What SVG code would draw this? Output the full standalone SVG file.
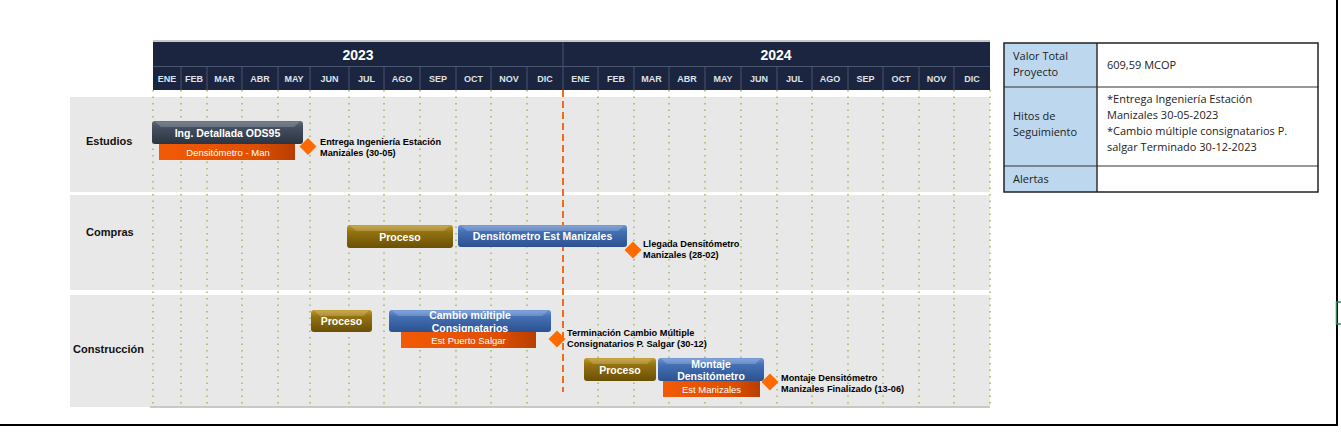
<svg xmlns="http://www.w3.org/2000/svg" width="1341" height="433" viewBox="0 0 1341 433">
<defs>
<style>
.band{fill:#e8e8e8}
.grid{stroke:#9bbb59;stroke-width:1.5;stroke-dasharray:1.5 5}
.mon{font-family:"Liberation Sans",Arial,sans-serif;font-weight:bold;font-size:9px;fill:#dfe3ea;text-anchor:middle}
.yr{font-family:"Liberation Sans",Arial,sans-serif;font-weight:bold;font-size:14px;fill:#ffffff;text-anchor:middle}
.row{font-family:"Liberation Sans",Arial,sans-serif;font-weight:bold;font-size:11px;fill:#111}
.bt{font-family:"Liberation Sans",Arial,sans-serif;font-weight:bold;font-size:10.5px;fill:#fff;text-anchor:middle}
.ot{font-family:"Liberation Sans",Arial,sans-serif;font-size:9.5px;fill:#fff;text-anchor:middle}
.ml{font-family:"Liberation Sans",Arial,sans-serif;font-weight:bold;font-size:9.2px;fill:#000}
.tt{font-family:"Open Sans","Liberation Sans",sans-serif;font-size:11px;fill:#222}
.dia{fill:#ff6a00}
.hl{fill:#ffffff;opacity:0.18}
</style>
<linearGradient id="gSlate" x1="0" y1="0" x2="0" y2="1"><stop offset="0" stop-color="#5d6878"/><stop offset="0.3" stop-color="#434e5f"/><stop offset="1" stop-color="#2b3441"/></linearGradient>
<linearGradient id="gGold" x1="0" y1="0" x2="0" y2="1"><stop offset="0" stop-color="#c09a28"/><stop offset="0.3" stop-color="#947210"/><stop offset="1" stop-color="#6a5005"/></linearGradient>
<linearGradient id="gBlue" x1="0" y1="0" x2="0" y2="1"><stop offset="0" stop-color="#6c94d4"/><stop offset="0.3" stop-color="#4470b4"/><stop offset="1" stop-color="#2c5190"/></linearGradient>
<linearGradient id="gOr" x1="0" y1="0" x2="1" y2="0"><stop offset="0" stop-color="#f25a06"/><stop offset="0.7" stop-color="#e04f00"/><stop offset="1" stop-color="#b83e00"/></linearGradient>
</defs>
<rect width="1341" height="433" fill="#ffffff"/>
<!-- frame -->
<line x1="1337" y1="0" x2="1337" y2="426" stroke="#000" stroke-width="2"/>
<line x1="0" y1="425" x2="1338" y2="425" stroke="#000" stroke-width="2"/>
<path d="M1341,302 H1336.5 V324 H1341" fill="none" stroke="#2e7d4f" stroke-width="1.5"/>

<!-- bands -->
<rect class="band" x="70" y="97" width="920" height="95"/>
<rect class="band" x="70" y="195" width="920" height="95"/>
<rect class="band" x="70" y="295" width="920" height="112"/>
<line x1="150" y1="407" x2="990" y2="407" stroke="#c8c8c8" stroke-width="2"/>

<!-- header -->
<g id="header">
<rect x="153" y="40" width="837" height="2" fill="#c8c8c8"/>
<rect x="153" y="42" width="837" height="48" fill="#1b2540"/>
<line x1="153" y1="66.5" x2="990" y2="66.5" stroke="#4a5570" stroke-width="1"/>
<line x1="563" y1="42" x2="563" y2="90" stroke="#4a5570" stroke-width="1"/>
<g stroke="#4a5570" stroke-width="1">
<line x1="181" y1="67" x2="181" y2="90"/><line x1="207" y1="67" x2="207" y2="90"/><line x1="242" y1="67" x2="242" y2="90"/><line x1="278" y1="67" x2="278" y2="90"/><line x1="310" y1="67" x2="310" y2="90"/><line x1="349" y1="67" x2="349" y2="90"/><line x1="384" y1="67" x2="384" y2="90"/><line x1="420" y1="67" x2="420" y2="90"/><line x1="456" y1="67" x2="456" y2="90"/><line x1="491" y1="67" x2="491" y2="90"/><line x1="527" y1="67" x2="527" y2="90"/>
<line x1="598" y1="67" x2="598" y2="90"/><line x1="634" y1="67" x2="634" y2="90"/><line x1="669" y1="67" x2="669" y2="90"/><line x1="705" y1="67" x2="705" y2="90"/><line x1="741" y1="67" x2="741" y2="90"/><line x1="777" y1="67" x2="777" y2="90"/><line x1="812" y1="67" x2="812" y2="90"/><line x1="848" y1="67" x2="848" y2="90"/><line x1="883" y1="67" x2="883" y2="90"/><line x1="919" y1="67" x2="919" y2="90"/><line x1="954" y1="67" x2="954" y2="90"/>
</g>
<text class="yr" x="358" y="60">2023</text>
<text class="yr" x="776" y="60">2024</text>
<text class="mon" x="167" y="81.5">ENE</text><text class="mon" x="194" y="81.5">FEB</text><text class="mon" x="224.5" y="81.5">MAR</text><text class="mon" x="260" y="81.5">ABR</text><text class="mon" x="294" y="81.5">MAY</text><text class="mon" x="329.5" y="81.5">JUN</text><text class="mon" x="366.5" y="81.5">JUL</text><text class="mon" x="402" y="81.5">AGO</text><text class="mon" x="438" y="81.5">SEP</text><text class="mon" x="473.5" y="81.5">OCT</text><text class="mon" x="509" y="81.5">NOV</text><text class="mon" x="545" y="81.5">DIC</text>
<text class="mon" x="580.5" y="81.5">ENE</text><text class="mon" x="616" y="81.5">FEB</text><text class="mon" x="651.5" y="81.5">MAR</text><text class="mon" x="687" y="81.5">ABR</text><text class="mon" x="723" y="81.5">MAY</text><text class="mon" x="759" y="81.5">JUN</text><text class="mon" x="794.5" y="81.5">JUL</text><text class="mon" x="830" y="81.5">AGO</text><text class="mon" x="865.5" y="81.5">SEP</text><text class="mon" x="901" y="81.5">OCT</text><text class="mon" x="936.5" y="81.5">NOV</text><text class="mon" x="972" y="81.5">DIC</text>
</g>

<!-- grid -->
<g id="grid">
<line class="grid" x1="153" y1="90" x2="153" y2="406"/><line class="grid" x1="181" y1="90" x2="181" y2="406"/><line class="grid" x1="207" y1="90" x2="207" y2="406"/><line class="grid" x1="242" y1="90" x2="242" y2="406"/><line class="grid" x1="278" y1="90" x2="278" y2="406"/><line class="grid" x1="310" y1="90" x2="310" y2="406"/><line class="grid" x1="349" y1="90" x2="349" y2="406"/><line class="grid" x1="384" y1="90" x2="384" y2="406"/><line class="grid" x1="420" y1="90" x2="420" y2="406"/><line class="grid" x1="456" y1="90" x2="456" y2="406"/><line class="grid" x1="491" y1="90" x2="491" y2="406"/><line class="grid" x1="527" y1="90" x2="527" y2="406"/>
<line class="grid" x1="598" y1="90" x2="598" y2="406"/><line class="grid" x1="634" y1="90" x2="634" y2="406"/><line class="grid" x1="669" y1="90" x2="669" y2="406"/><line class="grid" x1="705" y1="90" x2="705" y2="406"/><line class="grid" x1="741" y1="90" x2="741" y2="406"/><line class="grid" x1="777" y1="90" x2="777" y2="406"/><line class="grid" x1="812" y1="90" x2="812" y2="406"/><line class="grid" x1="848" y1="90" x2="848" y2="406"/><line class="grid" x1="883" y1="90" x2="883" y2="406"/><line class="grid" x1="919" y1="90" x2="919" y2="406"/><line class="grid" x1="954" y1="90" x2="954" y2="406"/><line class="grid" x1="990" y1="90" x2="990" y2="406"/>
<line x1="563" y1="90" x2="563" y2="392" stroke="#f26b1d" stroke-width="2" stroke-dasharray="7 4"/>
</g>

<!-- row labels -->
<text class="row" x="86" y="145">Estudios</text>
<text class="row" x="86" y="236">Compras</text>
<text class="row" x="73" y="353">Construcción</text>

<!-- Estudios -->
<g id="ing">
<rect x="152" y="121" width="151" height="23" rx="3" fill="url(#gSlate)"/>
<polygon class="hl" points="155,121.5 300,121.5 294,127 161,127"/>
<text class="bt" x="227.5" y="136.5">Ing. Detallada ODS95</text>
</g>
<g id="densMan">
<rect x="159" y="144" width="136" height="16" fill="url(#gOr)"/>
<text class="ot" x="228" y="155.5">Densitómetro - Man</text>
</g>
<g id="m1">
<polygon class="dia" points="308,138 316.5,146.5 308,155 299.5,146.5"/>
<text class="ml" x="320" y="144.5">Entrega Ingeniería Estación</text>
<text class="ml" x="320" y="155.5">Manizales (30-05)</text>
</g>

<!-- Compras -->
<g id="proc1">
<rect x="347" y="225" width="106" height="23" rx="3" fill="url(#gGold)"/>
<polygon class="hl" points="350,225.5 450,225.5 444,231 356,231"/>
<text class="bt" x="400" y="240.5">Proceso</text>
</g>
<g id="densEst">
<rect x="458" y="225" width="169" height="22" rx="3" fill="url(#gBlue)"/>
<polygon class="hl" points="461,225.5 624,225.5 618,231 467,231"/>
<text class="bt" x="542.5" y="240">Densitómetro Est Manizales</text>
</g>
<g id="m2">
<polygon class="dia" points="633,241.5 641.5,250 633,258.5 624.5,250"/>
<text class="ml" x="643" y="246.5">Llegada Densitómetro</text>
<text class="ml" x="643" y="257.5">Manizales  (28-02)</text>
</g>

<!-- Construccion -->
<g id="proc2">
<rect x="311" y="310" width="61" height="22" rx="3" fill="url(#gGold)"/>
<polygon class="hl" points="314,310.5 369,310.5 363,316 320,316"/>
<text class="bt" x="341.5" y="325">Proceso</text>
</g>
<g id="cambio">
<rect x="389" y="310" width="162" height="22" rx="3" fill="url(#gBlue)"/>
<polygon class="hl" points="392,310.5 548,310.5 542,316 398,316"/>
<text class="bt" x="470" y="319">Cambio múltiple</text>
<text class="bt" x="470" y="331.5">Consignatarios</text>
</g>
<g id="puerto">
<rect x="401" y="332" width="135" height="16" fill="url(#gOr)"/>
<text class="ot" x="468.5" y="343.5">Est Puerto Salgar</text>
</g>
<g id="m3">
<polygon class="dia" points="557,330.5 565.5,339 557,347.5 548.5,339"/>
<text class="ml" x="567" y="335.5">Terminación Cambio Múltiple</text>
<text class="ml" x="567" y="346.5">Consignatarios P. Salgar (30-12)</text>
</g>
<g id="proc3">
<rect x="584" y="358" width="72" height="23" rx="3" fill="url(#gGold)"/>
<polygon class="hl" points="587,358.5 653,358.5 647,364 593,364"/>
<text class="bt" x="620" y="374">Proceso</text>
</g>
<g id="montaje">
<rect x="658" y="358" width="106" height="23" rx="3" fill="url(#gBlue)"/>
<polygon class="hl" points="661,358.5 761,358.5 755,364 667,364"/>
<text class="bt" x="711" y="367.5">Montaje</text>
<text class="bt" x="711" y="380">Densitómetro</text>
</g>
<g id="estMan">
<rect x="663" y="381" width="97" height="16" fill="url(#gOr)"/>
<text class="ot" x="711.5" y="392.5">Est Manizales</text>
</g>
<g id="m4">
<polygon class="dia" points="770,373.5 778.5,382 770,390.5 761.5,382"/>
<text class="ml" x="781" y="380.5">Montaje Densitómetro</text>
<text class="ml" x="781" y="391.5">Manizales Finalizado (13-06)</text>
</g>

<!-- table -->
<g id="table">
<rect x="1004" y="43" width="93" height="149" fill="#bdd7ee"/>
<rect x="1097" y="43" width="221" height="149" fill="#ffffff"/>
<line x1="1004" y1="87" x2="1318" y2="87" stroke="#333" stroke-width="1"/>
<line x1="1004" y1="166" x2="1318" y2="166" stroke="#333" stroke-width="1"/>
<line x1="1097" y1="43" x2="1097" y2="192" stroke="#333" stroke-width="1.5"/>
<rect x="1004" y="43" width="314" height="149" fill="none" stroke="#222" stroke-width="1.5"/>
<text class="tt" x="1013" y="60">Valor Total</text>
<text class="tt" x="1013" y="76">Proyecto</text>
<text class="tt" x="1107" y="69">609,59 MCOP</text>
<text class="tt" x="1013" y="120">Hitos de</text>
<text class="tt" x="1013" y="136">Seguimiento</text>
<text class="tt" x="1107" y="103">*Entrega Ingeniería Estación</text>
<text class="tt" x="1107" y="119">Manizales 30-05-2023</text>
<text class="tt" x="1107" y="135">*Cambio múltiple consignatarios P.</text>
<text class="tt" x="1107" y="151">salgar Terminado 30-12-2023</text>
<text class="tt" x="1013" y="183">Alertas</text>
</g>
</svg>
